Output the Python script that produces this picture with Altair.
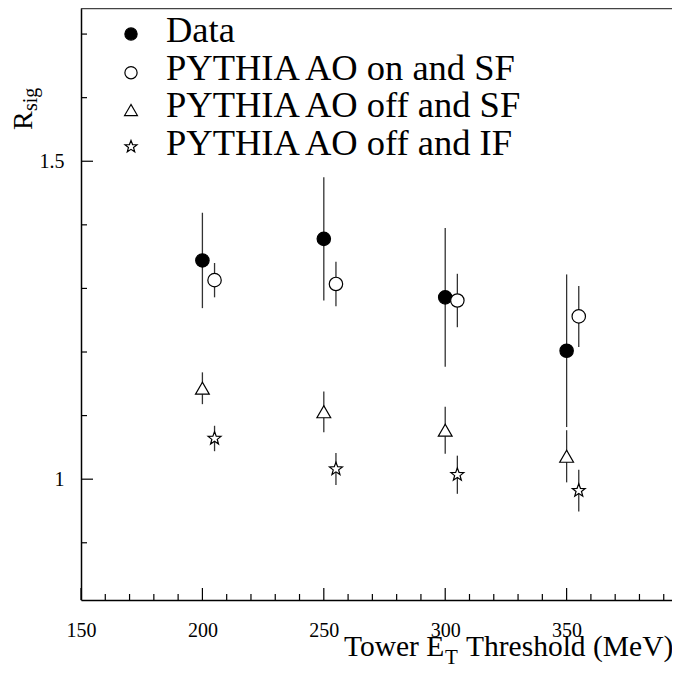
import altair as alt
import pandas as pd

# ---------------- data ----------------
thresholds = [200, 250, 300, 350]
mc_thresholds = [205, 255, 305, 355]

data_val = [1.344, 1.378, 1.286, 1.202]
data_err = [0.075, 0.097, 0.109, 0.120]

on_sf_val = [1.313, 1.307, 1.281, 1.256]
on_sf_err = [0.027, 0.035, 0.042, 0.048]

off_sf_val = [1.143, 1.106, 1.077, 1.036]
off_sf_err = [0.025, 0.032, 0.037, 0.041]

off_if_val = [1.064, 1.016, 1.007, 0.982]
off_if_err = [0.020, 0.025, 0.030, 0.033]

series_names = ["Data", "PYTHIA AO on and SF", "PYTHIA AO off and SF", "PYTHIA AO off and IF"]

x_major = [150, 200, 250, 300, 350]
x_minor = [160, 170, 180, 190, 210, 220, 230, 240, 260, 270, 280, 290,
           310, 320, 330, 340, 360, 370, 380, 390]
y_major = [1.0, 1.5]
y_minor = [0.9, 1.1, 1.2, 1.3, 1.4, 1.6, 1.7]

x_title_parts = ["Tower E", "T", "Threshold (MeV)"]
y_title_parts = ["R", "sig"]

# ---------------- layout / style ----------------
W, H = 591, 592
FONT = "Liberation Serif"
x_domain = [150, 393.4]
y_domain = [0.810, 1.741]

STAR = ("M0,-1 L0.2469,-0.3398 L0.9511,-0.309 L0.3995,0.1298 L0.5878,0.809 "
        "L0,0.42 L-0.5878,0.809 L-0.3995,0.1298 L-0.9511,-0.309 L-0.2469,-0.3398 Z")

styles = {
    "Data": dict(shape="circle", fill="black", size=180),
    "PYTHIA AO on and SF": dict(shape="circle", fill="white", size=180),
    "PYTHIA AO off and SF": dict(shape="triangle-up", fill="white", size=190),
    "PYTHIA AO off and IF": dict(shape=STAR, fill="white", size=185),
}
legend_styles = {
    "Data": dict(shape="circle", fill="black", size=150),
    "PYTHIA AO on and SF": dict(shape="circle", fill="white", size=150),
    "PYTHIA AO off and SF": dict(shape="triangle-up", fill="white", size=165),
    "PYTHIA AO off and IF": dict(shape=STAR, fill="white", size=160),
}

rows = []
for name, xs, vals, errs in [
    (series_names[0], thresholds, data_val, data_err),
    (series_names[1], mc_thresholds, on_sf_val, on_sf_err),
    (series_names[2], thresholds, off_sf_val, off_sf_err),
    (series_names[3], mc_thresholds, off_if_val, off_if_err),
]:
    for x, v, e in zip(xs, vals, errs):
        rows.append({"series": name, "x": x, "y": v, "lo": v - e, "hi": v + e})
df = pd.DataFrame(rows)

xscale = alt.Scale(domain=x_domain, nice=False, zero=False)
yscale = alt.Scale(domain=y_domain, nice=False, zero=False)

xaxis = alt.Axis(values=x_major, format="d", title=None, ticks=False, tickSize=0,
                 grid=False, domain=True, domainColor="black", domainWidth=1.5,
                 labelFont=FONT, labelFontSize=20, labelColor="black",
                 labelPadding=20, labelFlush=False, orient="bottom")
yaxis = alt.Axis(values=y_major, format="~g", title=None, ticks=False, tickSize=0,
                 grid=False, domain=True, domainColor="black", domainWidth=1.5,
                 labelFont=FONT, labelFontSize=20, labelColor="black",
                 labelPadding=17, labelFlush=False, orient="left")


def X(field):
    return alt.X(f"{field}:Q", scale=xscale, axis=xaxis)


def Y(field):
    return alt.Y(f"{field}:Q", scale=yscale, axis=yaxis)


layers = []

# error bars
layers.append(
    alt.Chart(df).mark_rule(color="#333333", strokeWidth=1.3).encode(
        x=X("x"), y=Y("lo"), y2="hi")
)

# markers
for name in series_names:
    st = styles[name]
    layers.append(
        alt.Chart(df).transform_filter(alt.datum.series == name)
        .mark_point(shape=st["shape"], filled=True, fill=st["fill"], stroke="black",
                    strokeWidth=1.2, size=st["size"], opacity=1)
        .encode(x=X("x"), y=Y("y"))
    )

# inward ticks
layers.append(alt.Chart(pd.DataFrame({"v": x_major})).mark_rule(color="black", strokeWidth=1.2)
              .encode(x=X("v"), y=alt.value(H), y2=alt.value(H - 12)))
layers.append(alt.Chart(pd.DataFrame({"v": x_minor})).mark_rule(color="black", strokeWidth=1.2)
              .encode(x=X("v"), y=alt.value(H), y2=alt.value(H - 6)))
layers.append(alt.Chart(pd.DataFrame({"v": y_major})).mark_rule(color="black", strokeWidth=1.2)
              .encode(y=Y("v"), x=alt.value(0), x2=alt.value(12)))
layers.append(alt.Chart(pd.DataFrame({"v": y_minor})).mark_rule(color="black", strokeWidth=1.2)
              .encode(y=Y("v"), x=alt.value(0), x2=alt.value(6)))

# top frame line
layers.append(alt.Chart(pd.DataFrame({"v": [0]})).mark_rule(color="#444444", strokeWidth=1.5)
              .encode(y=alt.value(0.5), x=alt.value(0), x2=alt.value(W)))

# legend
leg_marker_y = [26, 64.7, 102, 138.7]
leg_text_y = [34, 72, 109, 147]
for name, my, ty in zip(series_names, leg_marker_y, leg_text_y):
    st = legend_styles[name]
    layers.append(
        alt.Chart(pd.DataFrame({"t": [name]}))
        .mark_point(shape=st["shape"], filled=True, fill=st["fill"], stroke="black",
                    strokeWidth=1.2, size=st["size"], opacity=1)
        .encode(x=alt.value(50), y=alt.value(my))
    )
    layers.append(
        alt.Chart(pd.DataFrame({"t": [name]}))
        .mark_text(font=FONT, fontSize=36.5, align="left", baseline="alphabetic", color="black")
        .encode(text="t:N", x=alt.value(85), y=alt.value(ty))
    )


def txt(s, x, y, size, angle=0, align="left"):
    return (alt.Chart(pd.DataFrame({"t": [s]}))
            .mark_text(font=FONT, fontSize=size, align=align, baseline="alphabetic",
                       color="black", angle=angle)
            .encode(text="t:N", x=alt.value(x), y=alt.value(y)))


# x title: Tower E_T Threshold (MeV)
layers.append(txt(x_title_parts[0], 263, 648, 29.5))
layers.append(txt(x_title_parts[1], 364, 655.5, 21))
layers.append(txt(x_title_parts[2], 385, 648, 29.5))

# y title: R_sig
layers.append(txt(y_title_parts[0], -49, 122, 28, angle=270))
layers.append(txt(y_title_parts[1], -44, 103, 20, angle=270))

chart = alt.layer(*layers).properties(
    width=W, height=H,
    autosize=alt.AutoSizeParams(type="none"),
    padding={"left": 73, "top": 0, "right": 0, "bottom": 64},
    background="white",
).configure_view(strokeWidth=0, strokeOpacity=0)

chart.save("out.html", embed_options={"renderer": "svg", "actions": False})
